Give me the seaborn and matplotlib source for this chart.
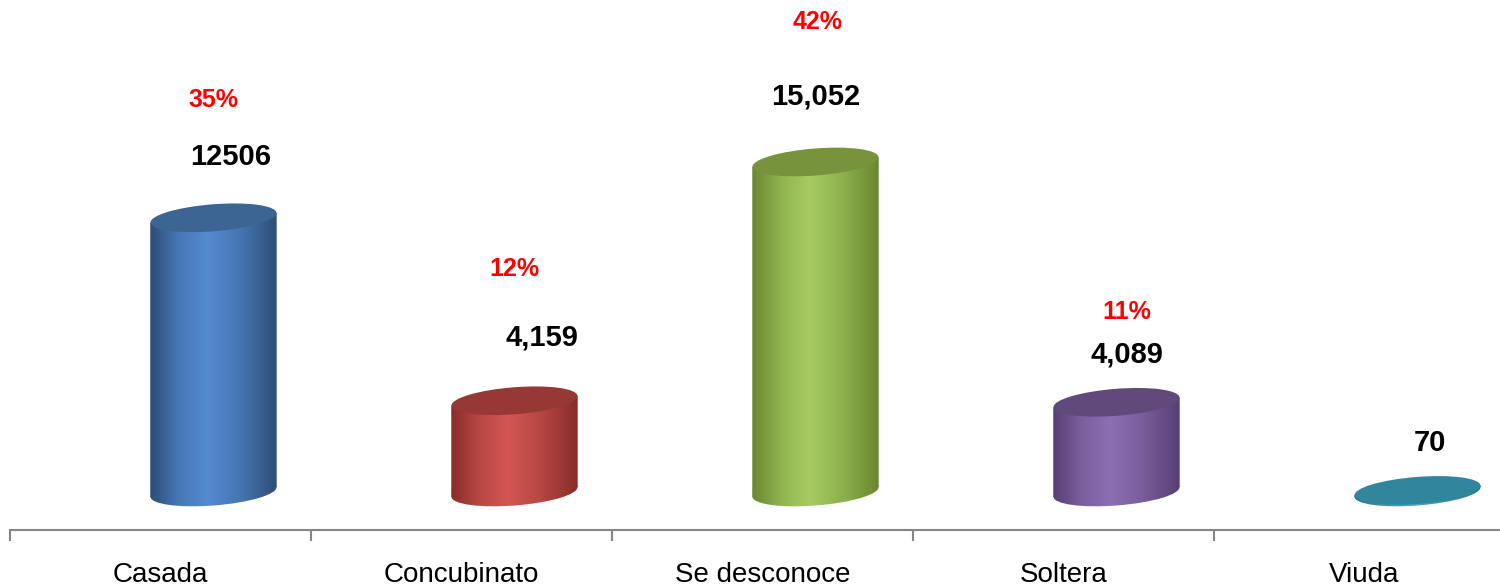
import numpy as np
import matplotlib
matplotlib.use("Agg")
import matplotlib.pyplot as plt
from matplotlib.patches import Ellipse, Polygon
from matplotlib.transforms import IdentityTransform
from matplotlib.colors import LinearSegmentedColormap
import seaborn as sns

# Datos
categorias = ["Casada", "Concubinato", "Se desconoce", "Soltera", "Viuda"]
casos = [12506, 4159, 15052, 4089, 70]
etiquetas_casos = ["12506", "4,159", "15,052", "4,089", "70"]
etiquetas_pct = ["35%", "12%", "42%", "11%", None]

# Colores de cada cilindro: (borde oscuro, tono medio, brillo, tapa)
colores = [
    ("#2F4D75", "#4677B5", "#558BD0", "#3D6594"),
    ("#882C2A", "#B84744", "#D35753", "#953836"),
    ("#6A8731", "#8FB24F", "#A8CC62", "#77933C"),
    ("#573F73", "#7A5E9C", "#8C6FB2", "#604A7B"),
    ("#2A7286", "#3B93AA", "#4AA6BE", "#31859C"),
]

# Desplazamientos manuales de las etiquetas (px): (dx_casos, dy_casos, dx_pct, dy_pct)
desp = [(17, 61, 0, 57), (27, 63, 0, 69), (0, 65, 2, 75), (10, 48, 10, 42), (12, 47, 0, 0)]

sns.set_style("white")
plt.rcParams["font.family"] = ["Liberation Sans", "DejaVu Sans"]

fig = plt.figure(figsize=(15, 5.86), dpi=100)
ax = fig.add_axes([10 / 1500, 56 / 586, 1505 / 1500, 530 / 586])

sns.barplot(x=categorias, y=casos, ax=ax, width=0.42, color="#4F81BD")

ax.set_xlim(-0.5, 4.5)
ax.set_ylim(-1735, 22440)

cap_px = 27           # alto de las elipses (px)
angulo = 4.5          # inclinación de las elipses
shift = 0.176         # desplazamiento por perspectiva
upp = (22440 + 1735) / 530.0   # unidades por pixel en y
grad = np.linspace(0, 1, 256).reshape(1, -1)

for p, col, lab, pct, d in zip(ax.patches, colores, etiquetas_casos, etiquetas_pct, desp):
    p.set_x(p.get_x() + shift)
    x0, w, h = p.get_x(), p.get_width(), p.get_height()
    p.set_facecolor("none")
    p.set_edgecolor("none")
    cx = x0 + w / 2

    L, B = ax.transData.transform((x0, 0))
    R, T = ax.transData.transform((x0 + w, h))
    w_px = R - L
    s = w_px / 2 * np.tan(np.radians(angulo))

    cmap = LinearSegmentedColormap.from_list(
        "c", [(0, col[0]), (0.22, col[1]), (0.45, col[2]), (0.7, col[1]), (1, col[0])])

    # cuerpo del cilindro (lados inclinados como las elipses)
    cuerpo = Polygon([(L, B - s), (R, B + s), (R, T + s), (L, T - s)],
                     closed=True, transform=IdentityTransform())
    im = ax.imshow(grad, extent=[x0, x0 + w, -cap_px * upp, h + cap_px * upp],
                   aspect="auto", cmap=cmap, zorder=2, interpolation="bicubic")
    im.set_clip_path(cuerpo)
    # base redondeada
    base = Ellipse(((L + R) / 2, B), w_px, cap_px, angle=angulo,
                   transform=IdentityTransform())
    im = ax.imshow(grad, extent=[x0, x0 + w, -cap_px * upp, cap_px * upp], aspect="auto",
                   cmap=cmap, zorder=2, interpolation="bicubic")
    im.set_clip_path(base)
    # tapa
    ax.add_patch(Ellipse(((L + R) / 2, T), w_px, cap_px, angle=angulo,
                         transform=IdentityTransform(), facecolor=col[3],
                         edgecolor="none", zorder=3))

    ax.annotate(lab, (cx, h), xytext=(d[0] * 0.72, d[1] * 0.72), textcoords="offset points",
                ha="center", va="center", fontsize=21, fontweight="bold", color="black")
    if pct:
        ax.annotate(pct, (cx, h), xytext=(d[2] * 0.72, (d[1] + d[3]) * 0.72),
                    textcoords="offset points", ha="center", va="center",
                    fontsize=18, fontweight="bold", color="#FF0000")

# Eje
for sp in ["left", "right", "top"]:
    ax.spines[sp].set_visible(False)
ax.spines["bottom"].set_color("#868686")
ax.spines["bottom"].set_linewidth(1.5)
ax.set_yticks([])
ax.set_xticks(np.arange(-0.5, 5, 1))
ax.set_xticklabels([])
ax.tick_params(axis="x", which="major", bottom=True, length=8, width=1.5,
               color="#868686", direction="out")
ax.set_xticks(range(len(categorias)), minor=True)
ax.set_xticklabels(categorias, minor=True, fontsize=20, color="black")
ax.tick_params(axis="x", which="minor", bottom=True, length=0, pad=23)
ax.set_xlabel("")
ax.set_ylabel("")

fig.savefig("out.png", dpi=100)
